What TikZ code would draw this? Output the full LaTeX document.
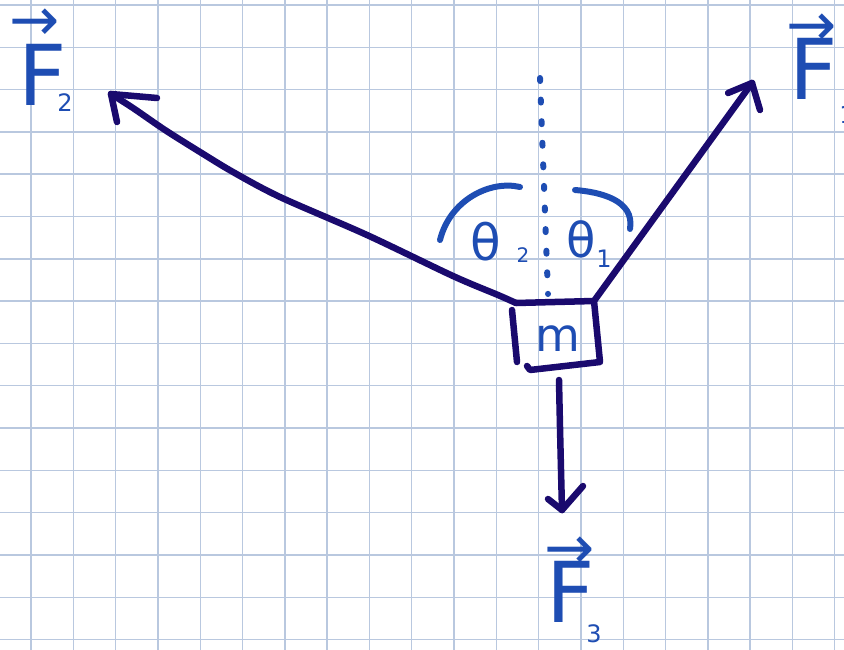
\documentclass[tikz,border=0pt]{standalone}
\usepackage{fontspec}
\newfontfamily\hand{DejaVu Sans}
\definecolor{gridc}{HTML}{B9C8DF}
\definecolor{navy}{HTML}{1A0A6E}
\definecolor{pen}{HTML}{1E4DB3}
\tikzset{
  gridline/.style={gridc, line width=1.4pt},
  force/.style={navy, line width=6.5pt, line cap=round, line join=round},
  penline/.style={pen, line width=6pt, line cap=round},
  lbl/.style={text=pen, inner sep=0pt, anchor=base},
  arr/.style={text=pen, inner sep=0pt, anchor=center},
}
\newcommand{\fs}[1]{\hand\fontsize{#1}{#1}\selectfont}
\begin{document}
\begin{tikzpicture}[x=1pt,y=-1pt]
\useasboundingbox (0,0) rectangle (844,650);
\fill[white] (0,0) rectangle (844,650);
% grid
\foreach \i in {0,...,19} \draw[gridline] ({31+42.3*\i},0) -- ({31+42.3*\i},650);
\foreach \j in {0,...,15} \draw[gridline] (0,{5+42.3*\j}) -- (844,{5+42.3*\j});

% box corners
\coordinate (tl) at (516,303);
\coordinate (tr) at (594,301);
\coordinate (br) at (600,362);
\coordinate (bl) at (530,370);
\coordinate (lt) at (512,310);
\coordinate (lb) at (517,362);
\node[lbl, font=\fs{46}] (m) at (558,351) {m};

% arrow tips
\coordinate (tip2) at (111,94);
\coordinate (tip1) at (752,83);
\coordinate (bot) at (559,380);
\coordinate (tip3) at (562,510);

% box
\draw[force] (lt) -- (lb);
\draw[force] (tl) -- (tr) -- (br) -- (bl) -- ++(-3,-4);

% F2 string
\draw[force] plot[smooth, tension=0.5] coordinates {(516,303) (498,295) (453,276)
  (367,235) (280,197) (233,172) (200,152) (165,130) (133,108) (111,94)};
\draw[force] (tip2) -- (157,98);
\draw[force] (tip2) -- (117,122);

% F1 string
\draw[force] (tr) -- (tip1);
\draw[force] (tip1) -- (728,93);
\draw[force] (tip1) -- (760,110);

% F3
\draw[force] (bot) .. controls (560,430) and (561,470) .. (tip3);
\draw[force] (tip3) -- (548,499);
\draw[force] (tip3) -- (583,486);

% dotted vertical
\coordinate (vtop) at (540,78);
\coordinate (vbot) at (548,294);
\draw[penline, dash pattern=on 3pt off 18.6pt] (vtop) -- (vbot);

% angle arcs
\coordinate (a2s) at (440,240);
\coordinate (a2e) at (520,187);
\draw[penline] (a2s) .. controls (450,200) and (490,180) .. (a2e);
\coordinate (a1s) at (575,190);
\coordinate (a1e) at (630,229);
\draw[penline] (a1s) .. controls (600,192) and (635,200) .. (a1e);

% labels
\node[lbl, font=\fs{50}] (th2) at (486,260) {θ};
\node[lbl, font=\fs{20}] (th2s) at (523,262) {2};
\node[lbl, font=\fs{48}] (th1) at (581,257) {θ};
\node[lbl, font=\fs{24}] (th1s) at (604,267) {1};

\node[lbl, font=\fs{84}] (F2) at (43,106) {F};
\node[lbl, font=\fs{24}] (F2s) at (65,112) {2};
\node[arr, font=\fs{60}] (F2a) at (35,25) {→};

\node[lbl, font=\fs{84}] (F1) at (814,100) {F};
\node[lbl, font=\fs{24}] (F1s) at (847,124) {1};
\node[arr, font=\fs{60}] (F1a) at (812,30) {→};

\node[lbl, font=\fs{84}] (F3) at (571,622) {F};
\node[lbl, font=\fs{24}] (F3s) at (594,642) {3};
\node[arr, font=\fs{60}] (F3a) at (570,553) {→};
\end{tikzpicture}
\end{document}
